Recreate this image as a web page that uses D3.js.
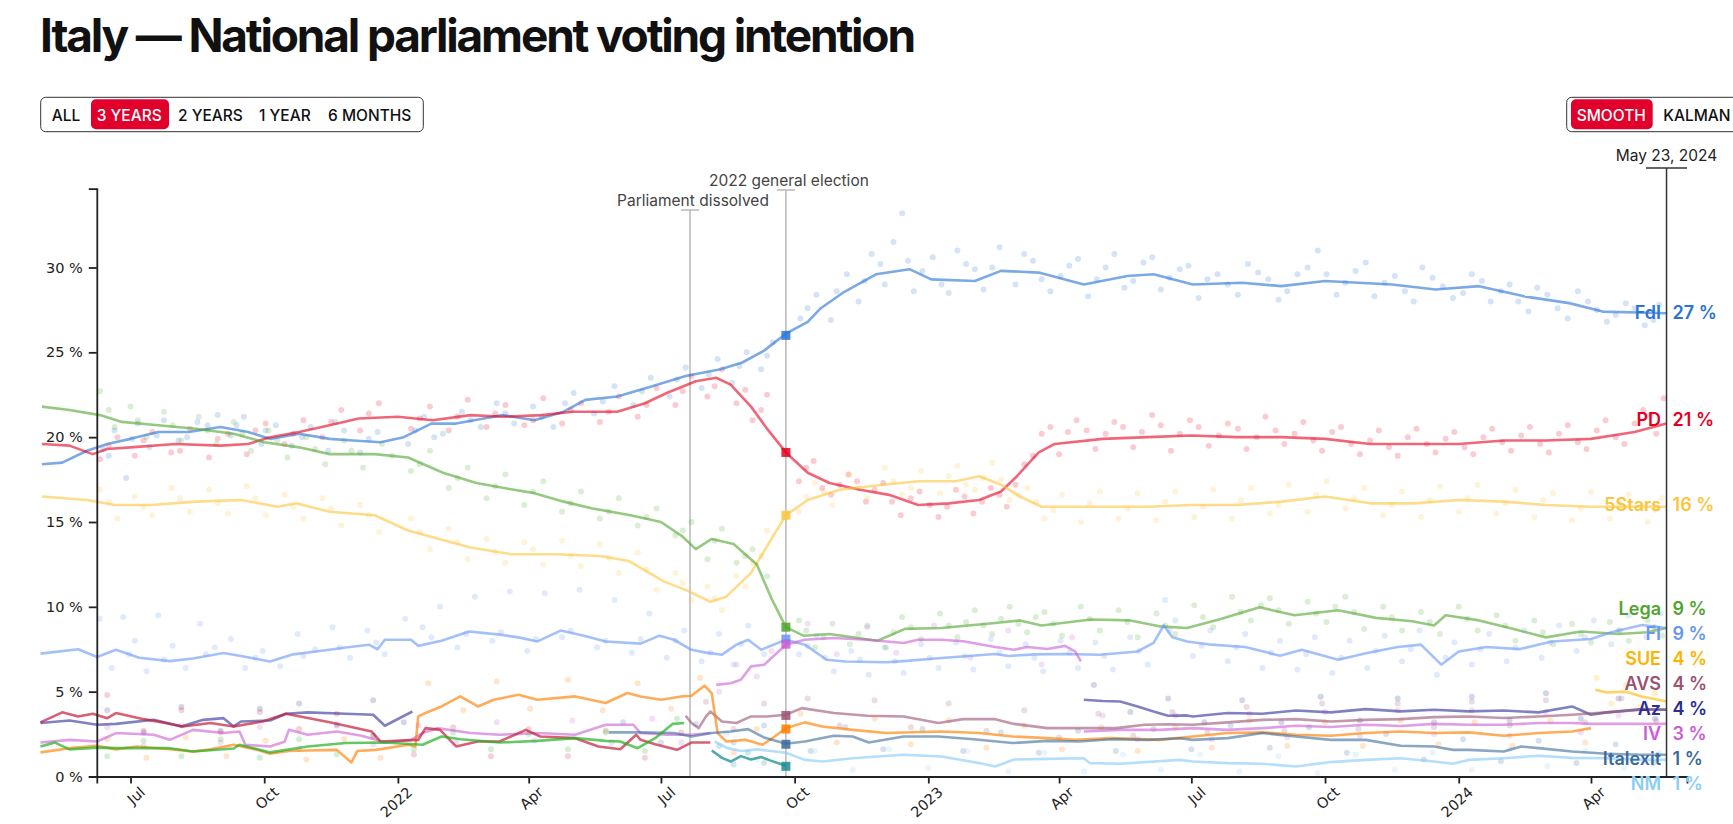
<!DOCTYPE html>
<html><head><meta charset="utf-8">
<script src="https://cdn.jsdelivr.net/npm/d3@7"></script>
<style>
body{margin:0;background:#fff;}
svg{display:block;font-family:Inter,"Noto Sans",sans-serif;}
</style></head><body>
<svg id="chart" width="1733" height="824"></svg>
<script>
// ---------------- DATA ----------------
const yTicks = [0,5,10,15,20,25,30];
const rangeButtons = ["ALL","3 YEARS","2 YEARS","1 YEAR","6 MONTHS"];
const modeButtons = ["SMOOTH","KALMAN"];
const events = [["2022-07-21","Parliament dissolved"],["2022-09-25","2022 general election"]];
const latestDate = "2024-05-23";

const fdiLine = [["2021-05-01",18.4],["2021-05-15",18.5],["2021-06-01",19.2],["2021-06-15",19.6],["2021-07-01",19.9],["2021-07-20",20.3],["2021-08-10",20.3],["2021-09-01",20.6],["2021-09-20",20.3],["2021-10-05",19.9],["2021-10-25",20.2],["2021-11-15",19.9],["2021-12-01",19.8],["2021-12-20",19.7],["2022-01-05",20.0],["2022-01-24",20.8],["2022-02-10",20.8],["2022-03-01",21.1],["2022-03-14",21.3],["2022-04-05",21.0],["2022-04-25",21.5],["2022-05-10",22.2],["2022-06-01",22.4],["2022-06-25",23.0],["2022-07-18",23.6],["2022-08-11",24.0],["2022-08-26",24.4],["2022-09-10",25.1],["2022-09-25",26.1],["2022-10-10",26.8],["2022-10-19",27.6],["2022-11-03",28.5],["2022-11-26",29.6],["2022-12-19",29.9],["2023-01-03",29.3],["2023-02-02",29.2],["2023-02-20",29.8],["2023-03-18",29.7],["2023-04-18",29.0],["2023-05-18",29.5],["2023-06-05",29.6],["2023-07-02",29.0],["2023-08-05",29.1],["2023-09-01",28.9],["2023-10-01",29.2],["2023-11-16",29.0],["2023-12-16",28.7],["2024-01-15",28.9],["2024-02-15",28.3],["2024-03-17",27.9],["2024-04-09",27.4],["2024-05-23",27.3]];
const pdLine = [["2021-05-01",19.6],["2021-05-20",19.5],["2021-06-05",19.0],["2021-06-15",19.3],["2021-07-01",19.4],["2021-08-01",19.6],["2021-09-01",19.5],["2021-09-20",19.6],["2021-10-05",20.0],["2021-10-25",20.3],["2021-11-15",20.7],["2021-12-05",21.1],["2022-01-01",21.2],["2022-01-25",21.0],["2022-02-20",21.3],["2022-03-15",21.2],["2022-04-10",21.3],["2022-05-01",21.5],["2022-06-01",21.5],["2022-06-20",22.0],["2022-07-05",22.6],["2022-07-25",23.3],["2022-08-08",23.5],["2022-08-18",23.1],["2022-09-01",21.8],["2022-09-12",20.5],["2022-09-25",19.1],["2022-10-10",17.9],["2022-10-25",17.3],["2022-11-15",16.9],["2022-12-05",16.6],["2022-12-25",16.0],["2023-01-15",16.1],["2023-02-05",16.3],["2023-02-20",16.8],["2023-03-03",17.7],["2023-03-18",19.1],["2023-03-29",19.6],["2023-05-01",19.9],["2023-06-01",20.0],["2023-07-01",20.1],["2023-08-01",20.0],["2023-09-01",20.0],["2023-10-01",19.9],["2023-11-01",19.6],["2023-12-01",19.6],["2024-01-01",19.6],["2024-02-01",19.8],["2024-03-01",19.8],["2024-04-01",19.9],["2024-05-01",20.3],["2024-05-23",20.8]];
const m5sLine = [["2021-05-01",16.5],["2021-06-01",16.3],["2021-06-20",16.0],["2021-07-15",16.0],["2021-08-15",16.2],["2021-09-15",16.3],["2021-10-10",15.9],["2021-10-23",16.1],["2021-11-15",15.6],["2021-12-16",15.4],["2022-01-08",14.5],["2022-01-25",14.1],["2022-02-20",13.5],["2022-03-20",13.1],["2022-04-20",13.1],["2022-05-20",13.0],["2022-06-09",12.7],["2022-07-03",11.5],["2022-07-18",11.0],["2022-08-04",10.3],["2022-08-15",10.6],["2022-09-01",12.0],["2022-09-15",14.0],["2022-09-25",15.4],["2022-10-10",16.3],["2022-11-01",16.9],["2022-12-01",17.2],["2022-12-25",17.4],["2023-01-20",17.4],["2023-02-05",17.7],["2023-02-20",17.2],["2023-03-05",16.5],["2023-03-20",15.9],["2023-05-01",15.9],["2023-06-01",15.9],["2023-07-01",16.0],["2023-08-01",16.0],["2023-09-01",16.2],["2023-10-01",16.5],["2023-11-01",16.1],["2023-12-01",16.1],["2024-01-01",16.3],["2024-02-01",16.2],["2024-03-01",16.0],["2024-04-01",15.9],["2024-05-23",15.9]];
const legaLine = [["2021-05-01",21.8],["2021-05-20",21.6],["2021-06-10",21.3],["2021-06-25",20.9],["2021-07-20",20.7],["2021-08-15",20.5],["2021-09-10",20.2],["2021-10-01",19.7],["2021-10-25",19.4],["2021-11-15",19.0],["2021-12-16",19.0],["2022-01-08",18.8],["2022-02-01",17.9],["2022-02-24",17.3],["2022-03-15",17.0],["2022-04-05",16.7],["2022-04-25",16.2],["2022-05-15",15.8],["2022-06-10",15.4],["2022-07-01",15.0],["2022-07-15",14.2],["2022-07-25",13.4],["2022-08-05",14.0],["2022-08-20",13.7],["2022-09-05",12.5],["2022-09-15",10.5],["2022-09-25",8.8],["2022-10-07",8.3],["2022-10-25",8.4],["2022-11-27",8.0],["2022-12-16",8.7],["2023-01-10",8.75],["2023-02-16",9.05],["2023-03-05",9.2],["2023-03-20",8.9],["2023-04-23",9.25],["2023-05-20",9.2],["2023-06-09",8.85],["2023-06-28",8.75],["2023-07-20",9.25],["2023-08-17",9.97],["2023-09-10",9.5],["2023-10-10",9.8],["2023-11-05",9.35],["2023-11-30",9.15],["2023-12-15",8.9],["2023-12-23",9.5],["2024-01-15",9.2],["2024-02-05",8.75],["2024-03-01",8.2],["2024-03-25",8.55],["2024-04-20",8.4],["2024-05-10",8.5],["2024-05-23",8.75]];
const fiLine = [["2021-04-30",7.24],["2021-05-26",7.5],["2021-06-08",7.04],["2021-06-21",7.47],["2021-07-07",7.0],["2021-07-28",6.8],["2021-08-13",6.95],["2021-09-03",7.28],["2021-09-15",7.1],["2021-10-05",6.78],["2021-10-21",7.2],["2021-11-11",7.43],["2021-11-26",7.6],["2021-12-12",7.77],["2021-12-18",7.5],["2021-12-23",8.06],["2022-01-10",8.06],["2022-01-15",7.7],["2022-01-31",8.0],["2022-02-19",8.55],["2022-03-12",8.36],["2022-03-25",8.2],["2022-04-07",7.96],["2022-04-23",8.6],["2022-05-09",8.3],["2022-05-24",7.96],["2022-06-17",7.83],["2022-06-30",8.3],["2022-07-10",8.06],["2022-07-22",7.47],["2022-08-01",7.3],["2022-08-12",7.18],["2022-08-22",7.77],["2022-08-30",8.06],["2022-09-08",7.47],["2022-09-25",8.06],["2022-10-08",7.77],["2022-10-23",6.88],["2022-11-05",6.78],["2022-12-03",6.73],["2022-12-15",6.8],["2023-01-10",6.98],["2023-02-16",7.22],["2023-02-25",7.1],["2023-03-15",7.2],["2023-04-05",7.22],["2023-04-29",7.18],["2023-05-25",7.37],["2023-06-05",7.87],["2023-06-12",8.9],["2023-06-18",8.2],["2023-06-28",7.96],["2023-07-15",7.77],["2023-08-07",7.63],["2023-08-31",7.12],["2023-09-15",7.47],["2023-10-10",6.88],["2023-10-30",7.28],["2023-11-20",7.63],["2023-12-06",7.77],["2023-12-20",6.59],["2024-01-01",7.37],["2024-01-20",7.63],["2024-02-12",7.51],["2024-03-05",7.96],["2024-04-01",8.1],["2024-04-15",8.5],["2024-05-06",8.93],["2024-05-23",8.75]];
const ivLine = [["2021-04-30",2.0],["2021-05-20",2.16],["2021-06-08",2.06],["2021-06-21",2.56],["2021-07-17",2.46],["2021-07-28",2.16],["2021-08-13",2.75],["2021-09-03",2.56],["2021-09-14",2.65],["2021-09-18",1.87],["2021-10-05",1.77],["2021-10-15",2.05],["2021-10-18",2.75],["2021-10-31",2.46],["2021-11-20",2.65],["2021-12-07",2.4],["2021-12-17",2.16],["2021-12-23",2.0],["2022-01-10",2.16],["2022-01-18",2.56],["2022-01-28",2.85],["2022-02-20",2.56],["2022-03-12",2.46],["2022-04-07",2.56],["2022-05-03",2.46],["2022-05-24",3.05],["2022-06-12",3.05],["2022-06-17",2.56],["2022-07-05",2.46],["2022-07-22",2.46],["2022-08-04",2.56],null,["2022-08-08",5.4],["2022-08-18",5.5],["2022-08-25",5.7],["2022-09-01",6.49],["2022-09-10",6.59],["2022-09-25",7.77],["2022-10-08",8.06],["2022-10-28",8.16],["2022-11-20",8.06],["2022-12-15",7.87],["2022-12-25",8.06],["2023-01-10",8.06],["2023-01-25",7.97],["2023-02-16",7.63],["2023-03-01",7.47],["2023-03-10",7.63],["2023-03-24",7.51],["2023-04-05",7.7],["2023-04-12",7.37],["2023-04-16",6.78],null,["2023-04-18",2.65],["2023-05-13",2.75],["2023-06-09",2.75],["2023-07-02",2.85],["2023-07-26",2.75],["2023-08-19",2.85],["2023-09-11",2.99],["2023-10-05",2.92],["2023-10-29",3.05],["2023-11-22",2.98],["2023-12-15",3.1],["2024-01-08",3.05],["2024-02-01",3.05],["2024-02-25",3.15],["2024-03-19",3.15],["2024-04-01",3.1],["2024-05-23",3.1]];
const azLine = [["2021-04-30",3.15],["2021-05-20",3.3],["2021-06-08",3.05],["2021-06-21",3.1],["2021-07-17",3.34],["2021-08-05",2.95],["2021-08-20",3.34],["2021-09-03",3.44],["2021-09-10",2.95],["2021-09-15",3.24],["2021-10-05",3.3],["2021-10-16",3.7],["2021-10-31",3.78],["2021-11-26",3.7],["2021-12-15",3.64],["2021-12-23",2.99],["2022-01-11",3.83],null,["2023-04-18",4.52],["2023-05-01",4.45],["2023-05-13",4.42],["2023-05-25",4.13],["2023-06-05",3.83],["2023-06-15",3.58],["2023-06-28",3.6],["2023-07-02",3.54],["2023-07-26",3.74],["2023-08-19",3.7],["2023-09-11",3.89],["2023-10-05",3.78],["2023-10-29",3.97],["2023-11-22",3.84],["2023-12-15",3.93],["2024-01-08",3.84],["2024-02-01",3.89],["2024-02-25",3.78],["2024-03-19",4.13],["2024-04-01",3.64],["2024-04-12",3.78],["2024-05-06",3.97],["2024-05-23",3.93]];
const avsLine = [["2022-07-18",3.58],["2022-07-22",3.15],["2022-07-27",2.85],["2022-08-01",3.54],["2022-08-04",3.83],["2022-08-12",3.24],["2022-08-22",3.15],["2022-09-01",3.54],["2022-09-12",3.54],["2022-09-25",3.64],["2022-10-06",4.03],["2022-10-28",3.74],["2022-11-20",3.58],["2022-12-15",3.54],["2023-01-08",3.15],["2023-01-25",3.38],["2023-02-16",3.38],["2023-03-01",3.1],["2023-03-24",2.85],["2023-04-15",2.85],["2023-05-10",2.85],["2023-05-30",3.05],["2023-06-15",3.08],["2023-07-02",3.05],["2023-07-26",3.19],["2023-08-19",3.34],["2023-09-11",3.38],["2023-10-05",3.24],["2023-10-29",3.34],["2023-11-22",3.38],["2023-12-15",3.5],["2024-01-08",3.54],["2024-02-01",3.45],["2024-02-25",3.54],["2024-03-19",3.64],["2024-04-12",3.78],["2024-05-06",3.93],["2024-05-23",3.93]];
const peLine = [["2021-04-30",1.42],["2021-05-20",1.67],["2021-06-08",1.81],["2021-06-21",1.6],["2021-07-05",1.77],["2021-07-28",1.61],["2021-08-13",1.47],["2021-08-25",1.6],["2021-09-10",1.87],["2021-09-25",1.6],["2021-10-05",1.34],["2021-10-18",1.5],["2021-10-31",1.53],["2021-11-20",1.57],["2021-11-30",0.83],["2021-12-04",1.5],["2021-12-17",1.57],["2022-01-08",1.87],["2022-01-13",1.77],["2022-01-15",3.54],["2022-01-20",3.74],["2022-01-31",4.13],["2022-02-13",4.72],["2022-02-25",4.13],["2022-03-08",4.52],["2022-03-25",4.82],["2022-04-07",4.52],["2022-05-03",4.72],["2022-05-24",4.33],["2022-06-08",4.92],["2022-06-17",4.72],["2022-07-01",4.52],["2022-07-15",4.72],["2022-07-22",4.76],["2022-07-31",5.35],["2022-08-05",4.9],["2022-08-09",2.56],["2022-08-15",2.06],["2022-08-28",2.16],["2022-09-09",1.87],["2022-09-18",2.4],["2022-09-25",2.85],["2022-10-08",3.19],["2022-10-20",2.95],["2022-11-10",2.75],["2022-12-03",2.56],["2023-01-10",2.65],["2023-02-05",2.56],["2023-02-28",2.36],["2023-03-24",2.26],["2023-04-12",2.16],["2023-05-07",2.26],["2023-06-09",2.16],["2023-07-02",2.36],["2023-07-26",2.56],["2023-08-19",2.6],["2023-09-11",2.46],["2023-10-05",2.4],["2023-10-29",2.56],["2023-11-22",2.65],["2023-12-15",2.56],["2024-01-08",2.6],["2024-02-01",2.4],["2024-02-25",2.56],["2024-03-19",2.65],["2024-04-01",2.85]];
const sueLine = [["2024-04-04",5.11],["2024-04-12",4.95],["2024-04-25",5.0],["2024-05-06",4.72],["2024-05-23",4.42]];
const italexitLine = [["2022-05-26",2.6],["2022-06-17",2.6],["2022-07-10",2.56],["2022-07-22",2.36],["2022-08-05",2.56],["2022-08-18",2.65],["2022-08-30",2.79],["2022-09-10",2.3],["2022-09-25",1.93],["2022-10-08",2.06],["2022-10-28",2.4],["2022-11-10",2.36],["2022-11-21",2.0],["2022-12-15",2.36],["2023-01-08",2.36],["2023-02-01",2.2],["2023-02-28",1.97],["2023-03-24",2.1],["2023-04-15",2.06],["2023-05-07",2.2],["2023-06-01",2.16],["2023-06-23",2.25],["2023-07-02",2.16],["2023-07-26",2.26],["2023-08-19",2.56],["2023-09-11",2.36],["2023-10-05",2.16],["2023-10-29",2.16],["2023-11-22",1.81],["2023-12-15",1.77],["2023-12-28",1.57],["2024-01-08",1.57],["2024-02-01",1.47],["2024-02-13",1.77],["2024-02-25",1.67],["2024-03-19",1.47],["2024-04-12",1.34],["2024-05-06",1.28],["2024-05-23",1.28]];
const nmLine = [["2022-08-07",2.06],["2022-08-15",1.7],["2022-08-25",1.5],["2022-09-05",1.6],["2022-09-25",1.4],["2022-10-08",0.98],["2022-10-20",0.88],["2022-11-10",1.08],["2022-12-15",1.28],["2023-01-10",1.18],["2023-02-05",0.79],["2023-02-16",0.59],["2023-03-01",1.0],["2023-03-24",1.04],["2023-04-18",1.08],["2023-04-22",0.8],["2023-05-13",0.75],["2023-06-23",0.98],["2023-07-02",0.88],["2023-07-26",0.79],["2023-08-19",0.75],["2023-09-11",0.59],["2023-10-05",0.85],["2023-10-29",0.98],["2023-11-22",1.08],["2023-12-15",0.88],["2023-12-28",0.75],["2024-01-08",0.98],["2024-02-01",1.08],["2024-02-25",1.22],["2024-03-19",1.1],["2024-04-12",1.08],["2024-05-06",0.98],["2024-05-23",0.98]];
const icLine = [["2022-08-05",1.53],["2022-08-12",1.1],["2022-08-18",0.88],["2022-08-25",1.2],["2022-09-01",1.0],["2022-09-08",1.15],["2022-09-14",0.95],["2022-09-25",0.63]];
const siLine = [["2021-04-30",3.19],["2021-05-15",3.78],["2021-05-26",3.54],["2021-06-05",3.7],["2021-06-15",3.44],["2021-06-21",3.74],["2021-07-10",3.38],["2021-07-25",3.15],["2021-08-06",2.95],["2021-08-25",3.15],["2021-09-10",2.95],["2021-09-30",3.24],["2021-10-16",3.7],["2021-11-15",3.2],["2021-12-14",2.65],["2021-12-20",2.06],["2022-01-15",2.16],["2022-01-20",2.85],["2022-01-30",2.75],["2022-02-10",1.77],["2022-02-25",2.06],["2022-03-12",2.06],["2022-03-30",2.75],["2022-04-09",2.36],["2022-05-03",2.26],["2022-05-19",1.77],["2022-06-03",1.61],["2022-06-14",2.46],["2022-06-17",2.16],["2022-06-27",1.9],["2022-07-12",1.57],["2022-07-22",2.0],["2022-08-04",2.0]];
const evLine = [["2021-04-30",1.77],["2021-05-10",2.0],["2021-05-20",1.6],["2021-06-08",1.7],["2021-06-21",1.67],["2021-07-28",1.67],["2021-08-13",1.47],["2021-09-10",1.65],["2021-09-14",1.87],["2021-10-05",1.42],["2021-10-31",1.77],["2021-11-26",1.97],["2021-12-23",2.0],["2022-01-18",1.87],["2022-01-31",2.36],["2022-02-13",2.2],["2022-03-12",2.0],["2022-04-07",2.1],["2022-05-03",2.26],["2022-05-24",2.1],["2022-06-03",2.06],["2022-06-15",1.67],["2022-06-27",2.26],["2022-07-09",3.1],["2022-07-17",3.15]];

const fdiPolls = [["2021-06-12",19.3],["2021-06-20",20.4],["2021-06-28",17.6],["2021-07-06",20.8],["2021-07-14",19.4],["2021-07-24",21.0],["2021-08-03",19.8],["2021-08-16",20.9],["2021-08-30",21.3],["2021-09-08",20.1],["2021-09-17",21.2],["2021-09-29",19.6],["2021-10-09",20.7],["2021-10-20",19.5],["2021-11-02",20.6],["2021-11-14",19.2],["2021-11-25",20.4],["2021-12-06",19.1],["2021-12-18",20.3],["2022-01-08",19.6],["2022-01-19",21.2],["2022-02-01",20.2],["2022-02-14",21.5],["2022-02-27",20.6],["2022-03-10",22.0],["2022-03-22",20.8],["2022-04-04",21.8],["2022-04-18",20.6],["2022-05-02",22.6],["2022-05-16",21.4],["2022-05-30",23.0],["2022-06-12",21.9],["2022-06-24",23.5],["2022-07-07",22.4],["2022-07-18",24.1],["2022-07-29",22.9],["2022-08-09",24.6],["2022-08-19",23.2],["2022-08-29",25.0],["2022-09-08",24.0],["2022-09-16",25.6],["2022-10-05",27.0],["2022-10-16",28.4],["2022-10-26",26.9],["2022-11-06",29.6],["2022-11-14",28.0],["2022-11-23",30.8],["2022-12-02",29.0],["2022-12-08",31.5],["2022-12-14",33.2],["2022-12-22",28.6],["2023-01-04",30.6],["2023-01-15",28.5],["2023-01-27",30.2],["2023-02-08",28.7],["2023-02-19",31.2],["2023-03-02",29.0],["2023-03-14",30.4],["2023-03-26",28.6],["2023-04-08",30.1],["2023-04-21",28.3],["2023-05-03",30.0],["2023-05-16",28.8],["2023-05-29",30.3],["2023-06-10",28.7],["2023-06-23",29.9],["2023-07-06",28.2],["2023-07-19",29.6],["2023-08-02",28.4],["2023-08-16",29.7],["2023-08-30",28.1],["2023-09-12",29.6],["2023-09-26",31.0],["2023-10-09",28.4],["2023-10-22",29.8],["2023-11-04",28.3],["2023-11-18",29.5],["2023-12-01",28.0],["2023-12-14",29.4],["2023-12-28",28.2],["2024-01-10",29.6],["2024-01-23",28.0],["2024-02-05",29.0],["2024-02-18",27.4],["2024-03-02",28.4],["2024-03-16",27.0],["2024-03-30",28.0],["2024-04-12",26.8],["2024-04-25",27.9],["2024-05-08",26.6],["2024-05-18",27.8],
["2021-06-16",18.9],["2021-07-02",19.9],["2021-07-19",20.1],["2021-08-09",20.0],["2021-08-23",20.7],["2021-09-12",20.7],["2021-10-02",20.4],["2021-10-27",20.0],["2021-11-19",20.9],["2021-12-12",19.9],["2022-01-13",20.4],["2022-01-26",20.0],["2022-02-20",21.0],["2022-03-16",21.4],["2022-04-10",21.2],["2022-04-26",22.0],["2022-05-22",22.1],["2022-06-18",22.7],["2022-07-12",23.4],["2022-08-03",23.7],["2022-08-24",24.2],["2022-09-12",24.8],["2022-10-10",27.6],["2022-10-30",28.6],["2022-11-18",29.2],["2022-11-29",30.2],["2022-12-18",30.4],["2022-12-28",29.8],["2023-01-10",29.0],["2023-01-21",31.0],["2023-02-02",29.9],["2023-02-14",30.0],["2023-03-08",30.8],["2023-03-20",29.3],["2023-04-02",29.5],["2023-04-14",30.5],["2023-04-27",29.3],["2023-05-09",30.8],["2023-05-22",29.2],["2023-06-04",30.6],["2023-06-16",29.4],["2023-06-29",30.1],["2023-07-12",29.3],["2023-07-26",29.0],["2023-08-09",30.2],["2023-08-23",29.3],["2023-09-05",28.6],["2023-09-19",30.0],["2023-10-02",29.6],["2023-10-15",29.1],["2023-10-29",30.3],["2023-11-11",29.1],["2023-11-25",28.6],["2023-12-07",30.0],["2023-12-21",28.9],["2024-01-04",28.5],["2024-01-17",29.2],["2024-01-30",28.6],["2024-02-11",28.0],["2024-02-24",28.8],["2024-03-09",27.6],["2024-03-23",28.6],["2024-04-05",27.5],["2024-04-18",27.2],["2024-05-01",27.6],["2024-05-14",26.9]];
const pdPolls = [["2021-06-10",18.7],["2021-06-22",20.0],["2021-07-04",18.9],["2021-07-16",20.3],["2021-07-29",19.1],["2021-08-11",20.5],["2021-08-24",18.8],["2021-09-06",20.2],["2021-09-19",19.0],["2021-10-02",20.8],["2021-10-15",19.6],["2021-10-28",21.0],["2021-11-10",20.0],["2021-11-23",21.6],["2021-12-06",20.4],["2021-12-19",22.0],["2022-01-10",20.5],["2022-01-23",21.8],["2022-02-05",20.4],["2022-02-18",22.2],["2022-03-03",20.6],["2022-03-16",21.9],["2022-03-29",20.7],["2022-04-11",22.3],["2022-04-24",20.8],["2022-05-07",22.0],["2022-05-20",20.9],["2022-06-02",22.4],["2022-06-15",21.2],["2022-06-28",22.9],["2022-07-11",21.9],["2022-07-22",23.6],["2022-08-02",22.4],["2022-08-12",24.0],["2022-08-22",22.0],["2022-09-02",21.0],["2022-09-12",22.5],["2022-10-04",17.4],["2022-10-14",18.6],["2022-10-26",16.6],["2022-11-07",17.8],["2022-11-19",16.2],["2022-12-01",17.3],["2022-12-13",15.4],["2022-12-26",16.8],["2023-01-08",15.3],["2023-01-20",16.9],["2023-02-01",15.5],["2023-02-13",17.0],["2023-02-24",15.9],["2023-03-08",18.4],["2023-03-20",20.2],["2023-04-01",19.0],["2023-04-13",21.0],["2023-04-26",19.3],["2023-05-09",20.9],["2023-05-22",19.4],["2023-06-04",21.3],["2023-06-17",19.2],["2023-06-30",21.0],["2023-07-13",19.5],["2023-07-26",20.8],["2023-08-08",19.3],["2023-08-21",21.2],["2023-09-03",19.6],["2023-09-16",20.9],["2023-09-29",19.2],["2023-10-12",20.6],["2023-10-25",19.0],["2023-11-07",20.4],["2023-11-20",18.9],["2023-12-03",20.5],["2023-12-16",19.1],["2023-12-29",20.3],["2024-01-11",19.0],["2024-01-24",20.5],["2024-02-06",19.2],["2024-02-19",20.6],["2024-03-03",19.1],["2024-03-16",20.7],["2024-03-29",19.3],["2024-04-11",21.0],["2024-04-24",19.6],["2024-05-07",21.6],["2024-05-16",20.2],["2024-05-21",22.3],
["2021-06-16",19.5],["2021-07-10",19.8],["2021-08-04",19.2],["2021-08-30",19.9],["2021-09-25",20.4],["2021-10-21",20.2],["2021-11-16",20.9],["2021-12-12",21.4],["2022-01-16",21.1],["2022-02-11",21.2],["2022-03-09",21.4],["2022-04-04",21.0],["2022-04-30",21.6],["2022-05-26",21.5],["2022-06-21",21.9],["2022-07-16",22.7],["2022-08-07",23.0],["2022-08-28",22.8],["2022-09-08",21.6],["2022-10-09",18.2],["2022-10-20",17.0],["2022-11-01",17.2],["2022-11-13",17.4],["2022-11-25",16.9],["2022-12-07",16.2],["2022-12-20",16.4],["2023-01-02",16.0],["2023-01-14",15.9],["2023-01-26",16.5],["2023-02-07",16.2],["2023-02-19",16.6],["2023-03-02",17.2],["2023-03-14",18.9],["2023-03-26",20.6],["2023-04-07",20.3],["2023-04-20",20.4],["2023-05-03",20.2],["2023-05-15",20.6],["2023-05-28",20.3],["2023-06-10",20.7],["2023-06-23",20.2],["2023-07-06",20.6],["2023-07-20",20.1],["2023-08-02",20.5],["2023-08-15",20.0],["2023-08-28",20.4],["2023-09-10",20.2],["2023-09-23",19.8],["2023-10-06",20.3],["2023-10-19",19.6],["2023-11-01",19.8],["2023-11-14",19.4],["2023-11-27",20.0],["2023-12-10",19.6],["2023-12-23",19.9],["2024-01-05",19.4],["2024-01-18",20.0],["2024-01-31",19.7],["2024-02-13",20.1],["2024-02-26",19.6],["2024-03-10",20.2],["2024-03-23",19.7],["2024-04-05",20.4],["2024-04-18",20.0],["2024-05-01",20.8],["2024-05-12",21.3]];
const m5sPolls = [["2021-06-10",16.9],["2021-06-22",15.2],["2021-07-04",16.5],["2021-07-16",15.4],["2021-07-29",17.0],["2021-08-11",15.6],["2021-08-24",16.9],["2021-09-06",15.5],["2021-09-19",17.1],["2021-10-02",15.4],["2021-10-15",16.6],["2021-10-28",15.2],["2021-11-10",16.4],["2021-11-23",14.8],["2021-12-06",16.0],["2021-12-19",14.4],["2022-01-10",15.2],["2022-01-23",13.4],["2022-02-05",14.6],["2022-02-18",12.8],["2022-03-03",14.0],["2022-03-16",12.6],["2022-03-29",13.8],["2022-04-11",12.5],["2022-04-24",13.9],["2022-05-07",12.4],["2022-05-20",13.7],["2022-06-02",12.0],["2022-06-15",13.2],["2022-06-28",11.0],["2022-07-11",12.0],["2022-07-22",10.4],["2022-08-02",11.2],["2022-08-12",9.8],["2022-08-22",11.8],["2022-09-02",12.6],["2022-09-12",14.5],["2022-10-04",15.6],["2022-10-15",17.3],["2022-10-27",16.0],["2022-11-08",17.8],["2022-11-20",16.4],["2022-12-02",18.2],["2022-12-14",16.6],["2022-12-27",18.0],["2023-01-09",16.7],["2023-01-21",18.3],["2023-02-02",16.9],["2023-02-14",18.5],["2023-02-26",16.3],["2023-03-10",17.0],["2023-03-22",15.2],["2023-04-03",16.6],["2023-04-16",15.0],["2023-04-29",16.8],["2023-05-12",15.2],["2023-05-25",16.7],["2023-06-07",15.1],["2023-06-20",16.8],["2023-07-03",15.3],["2023-07-16",16.9],["2023-07-29",15.2],["2023-08-11",17.0],["2023-08-24",15.5],["2023-09-06",17.2],["2023-09-19",15.6],["2023-10-02",17.4],["2023-10-15",15.8],["2023-10-28",17.0],["2023-11-10",15.4],["2023-11-23",16.8],["2023-12-06",15.3],["2023-12-19",17.1],["2024-01-01",15.6],["2024-01-14",17.2],["2024-01-27",15.5],["2024-02-09",16.9],["2024-02-22",15.3],["2024-03-06",16.7],["2024-03-19",15.1],["2024-04-01",16.8],["2024-04-14",15.2],["2024-04-27",16.6],["2024-05-10",15.0],["2024-05-20",16.4],
["2021-06-16",16.2],["2021-07-10",15.9],["2021-08-04",16.4],["2021-08-30",16.1],["2021-09-25",16.4],["2021-10-21",15.9],["2021-11-16",15.8],["2021-12-12",15.4],["2022-01-16",14.4],["2022-02-11",13.8],["2022-03-09",13.2],["2022-04-04",13.4],["2022-04-30",13.0],["2022-05-26",12.9],["2022-06-21",12.2],["2022-07-16",11.4],["2022-08-07",10.5],["2022-08-28",11.2],["2022-09-08",13.0],["2022-10-09",16.5],["2022-10-21",16.8],["2022-11-14",17.0],["2022-12-08",17.4],["2022-12-20",17.0],["2023-01-15",17.7],["2023-01-27",17.2],["2023-02-08",17.6],["2023-02-20",17.5],["2023-03-04",16.6],["2023-03-16",16.2],["2023-03-28",15.7],["2023-04-22",16.1],["2023-05-18",15.8],["2023-06-13",16.2],["2023-07-09",15.9],["2023-08-04",16.3],["2023-08-30",16.0],["2023-09-25",16.6],["2023-10-21",16.4],["2023-11-16",16.0],["2023-12-12",16.3],["2024-01-07",16.4],["2024-02-02",16.1],["2024-02-28",16.3],["2024-03-25",15.8],["2024-04-20",16.1],["2024-05-15",15.7]];
const legaPolls = [["2021-06-10",22.7],["2021-06-20",20.6],["2021-07-01",21.8],["2021-07-12",20.0],["2021-07-24",21.5],["2021-08-05",19.8],["2021-08-17",21.2],["2021-08-29",19.6],["2021-09-10",20.9],["2021-09-22",19.2],["2021-10-04",20.4],["2021-10-17",18.8],["2021-10-30",20.0],["2021-11-12",18.4],["2021-11-25",19.8],["2021-12-08",18.2],["2021-12-21",19.6],["2022-01-10",18.0],["2022-01-23",19.2],["2022-02-05",17.0],["2022-02-18",18.2],["2022-03-03",16.4],["2022-03-16",17.8],["2022-03-29",16.0],["2022-04-11",17.4],["2022-04-24",15.6],["2022-05-07",16.8],["2022-05-20",15.2],["2022-06-02",16.4],["2022-06-15",14.8],["2022-06-28",15.8],["2022-07-11",14.2],["2022-07-22",15.0],["2022-08-02",12.8],["2022-08-12",14.6],["2022-08-22",12.6],["2022-09-02",13.4],["2022-09-12",11.8],["2022-10-04",9.2],["2022-10-15",7.6],["2022-10-27",9.0],["2022-11-08",7.8],["2022-11-20",8.9],["2022-12-02",7.6],["2022-12-14",9.4],["2022-12-27",8.1],["2023-01-09",9.6],["2023-01-21",8.2],["2023-02-02",9.8],["2023-02-14",8.4],["2023-02-26",10.0],["2023-03-10",8.5],["2023-03-22",9.7],["2023-04-03",8.3],["2023-04-16",10.0],["2023-04-29",8.6],["2023-05-12",9.8],["2023-05-25",8.2],["2023-06-07",9.6],["2023-06-20",8.4],["2023-07-03",10.1],["2023-07-16",8.8],["2023-07-29",10.6],["2023-08-11",9.2],["2023-08-24",10.5],["2023-09-06",9.0],["2023-09-19",10.3],["2023-10-02",9.1],["2023-10-15",10.6],["2023-10-28",8.7],["2023-11-10",10.0],["2023-11-23",8.6],["2023-12-06",9.7],["2023-12-19",8.4],["2024-01-01",10.0],["2024-01-14",8.6],["2024-01-27",9.5],["2024-02-09",8.0],["2024-02-22",9.2],["2024-03-06",7.8],["2024-03-19",9.0],["2024-04-01",7.9],["2024-04-14",9.1],["2024-04-27",8.0],["2024-05-10",9.2],["2024-05-20",8.3],
["2021-06-16",21.6],["2021-07-06",21.0],["2021-07-30",20.7],["2021-08-23",20.4],["2021-09-16",20.2],["2021-10-10",19.8],["2021-11-05",19.3],["2021-11-30",19.2],["2021-12-28",18.9],["2022-01-16",18.4],["2022-02-11",17.6],["2022-03-09",17.1],["2022-04-04",16.8],["2022-04-30",16.1],["2022-05-26",15.6],["2022-06-21",15.3],["2022-07-16",14.5],["2022-08-07",13.9],["2022-08-28",13.0],["2022-10-09",8.6],["2022-10-21",8.2],["2022-11-14",8.4],["2022-12-08",8.5],["2022-12-20",8.8],["2023-01-15",8.9],["2023-01-27",9.1],["2023-02-08",8.9],["2023-02-20",9.3],["2023-03-04",9.0],["2023-03-16",9.4],["2023-03-28",9.0],["2023-04-22",9.3],["2023-05-18",9.1],["2023-06-13",8.9],["2023-07-09",9.4],["2023-08-04",9.7],["2023-08-18",10.1],["2023-08-30",9.8],["2023-09-25",9.6],["2023-10-08",10.0],["2023-10-21",9.7],["2023-11-16",9.4],["2023-12-12",9.1],["2024-01-07",9.3],["2024-02-02",8.9],["2024-02-28",8.5],["2024-03-25",8.4],["2024-04-20",8.6],["2024-05-15",8.8]];
const fiPolls = [["2021-06-10",9.3],["2021-06-18",6.4],["2021-06-26",9.4],["2021-07-04",8.0],["2021-07-12",6.2],["2021-07-20",9.5],["2021-07-30",7.7],["2021-08-08",6.4],["2021-08-18",9.0],["2021-08-28",7.6],["2021-09-08",8.1],["2021-09-18",6.4],["2021-09-30",7.4],["2021-10-12",6.5],["2021-10-24",8.4],["2021-11-05",7.5],["2021-11-17",8.8],["2021-11-29",7.0],["2021-12-11",8.6],["2021-12-23",7.2],["2022-01-06",9.3],["2022-01-18",8.8],["2022-01-30",10.0],["2022-02-11",7.6],["2022-02-23",10.6],["2022-03-07",8.0],["2022-03-19",10.9],["2022-03-31",7.4],["2022-04-12",10.8],["2022-04-24",8.2],["2022-05-06",11.0],["2022-05-18",7.6],["2022-05-30",10.4],["2022-06-11",7.3],["2022-06-23",9.6],["2022-07-05",7.0],["2022-07-17",8.6],["2022-07-29",6.8],["2022-08-10",8.4],["2022-08-20",6.6],["2022-08-30",8.9],["2022-09-10",7.2],["2022-10-04",7.2],["2022-10-16",8.3],["2022-10-28",6.2],["2022-11-09",7.4],["2022-11-21",6.0],["2022-12-03",7.6],["2022-12-15",6.1],["2022-12-27",7.8],["2023-01-08",6.4],["2023-01-20",7.9],["2023-02-01",6.3],["2023-02-13",8.1],["2023-02-25",6.5],["2023-03-09",7.8],["2023-03-21",6.2],["2023-04-02",8.0],["2023-04-14",6.4],["2023-04-26",7.9],["2023-05-08",6.3],["2023-05-20",8.2],["2023-06-01",6.6],["2023-06-13",10.4],["2023-06-20",9.2],["2023-07-02",7.1],["2023-07-14",8.6],["2023-07-26",6.8],["2023-08-07",8.4],["2023-08-19",6.4],["2023-08-31",8.0],["2023-09-12",6.3],["2023-09-24",8.2],["2023-10-06",6.1],["2023-10-18",8.0],["2023-10-30",6.4],["2023-11-11",8.3],["2023-11-23",6.8],["2023-12-05",8.6],["2023-12-17",6.0],["2023-12-29",7.9],["2024-01-10",6.6],["2024-01-22",8.4],["2024-02-03",6.8],["2024-02-15",8.6],["2024-02-27",7.0],["2024-03-10",8.9],["2024-03-22",7.4],["2024-04-03",9.2],["2024-04-15",7.8],["2024-04-27",9.5],["2024-05-09",8.2],["2024-05-19",9.6],
["2021-06-30",7.2],["2021-07-24",6.9],["2021-08-22",7.2],["2021-09-25",7.0],["2021-10-28",7.1],["2021-11-22",7.6],["2021-12-17",7.9],["2022-01-24",8.2],["2022-02-17",8.4],["2022-03-13",8.5],["2022-04-06",8.1],["2022-04-30",8.6],["2022-05-24",8.0],["2022-06-17",8.1],["2022-07-11",8.0],["2022-08-04",7.3],["2022-08-25",7.8],["2022-10-10",7.7],["2022-10-22",7.0],["2022-11-15",6.9],["2022-12-09",6.8],["2023-01-02",7.0],["2023-01-26",7.1],["2023-02-19",7.3],["2023-03-15",7.0],["2023-04-08",7.3],["2023-05-02",7.1],["2023-05-26",7.4],["2023-06-16",8.6],["2023-07-08",7.7],["2023-08-01",7.6],["2023-08-25",7.3],["2023-09-18",7.2],["2023-10-12",7.0],["2023-11-05",7.4],["2023-11-29",7.5],["2023-12-23",7.0],["2024-01-16",7.5],["2024-02-09",7.6],["2024-03-04",7.9],["2024-03-28",8.2],["2024-04-21",8.6],["2024-05-14",8.8]];
const ivPolls = [["2021-06-15",2.9],["2021-07-10",1.8],["2021-08-05",3.0],["2021-09-01",2.0],["2021-09-28",2.9],["2021-10-25",1.6],["2021-11-20",3.1],["2021-12-15",1.9],["2022-01-15",3.0],["2022-02-10",2.0],["2022-03-10",3.2],["2022-04-05",2.1],["2022-05-01",3.3],["2022-05-28",2.0],["2022-06-25",3.4],["2022-07-15",2.0],["2022-08-10",5.0],["2022-08-22",6.6],["2022-09-05",5.9],["2022-09-15",7.4],["2022-10-10",9.0],["2022-10-30",7.2],["2022-11-20",8.8],["2022-12-10",7.3],["2023-01-05",8.9],["2023-01-30",7.0],["2023-02-25",8.6],["2023-03-20",6.6],["2023-04-10",8.2],["2023-05-01",3.6],["2023-05-25",2.2],["2023-06-20",3.6],["2023-07-15",2.2],["2023-08-10",3.7],["2023-09-05",2.3],["2023-10-01",3.8],["2023-10-25",2.4],["2023-11-20",3.9],["2023-12-15",2.5],["2024-01-10",3.9],["2024-02-05",2.4],["2024-03-01",3.8],["2024-03-25",2.6],["2024-04-20",3.6],["2024-05-15",2.5]];
const azPolls = [["2021-06-15",3.9],["2021-07-10",2.6],["2021-08-05",4.1],["2021-09-01",2.7],["2021-09-28",4.0],["2021-10-25",4.3],["2021-11-20",3.0],["2021-12-15",4.5],["2022-01-05",3.2],["2023-04-25",5.4],["2023-05-20",3.8],["2023-06-15",4.6],["2023-07-10",3.2],["2023-08-05",4.5],["2023-09-01",3.2],["2023-09-28",4.7],["2023-10-25",3.3],["2023-11-20",4.6],["2023-12-15",3.2],["2024-01-10",4.7],["2024-02-05",3.3],["2024-03-01",4.9],["2024-03-25",3.4],["2024-04-20",4.6],["2024-05-15",3.4]];
const avsPolls = [["2022-08-01",4.4],["2022-08-20",2.8],["2022-09-10",4.3],["2022-10-10",4.6],["2022-11-01",3.0],["2022-11-25",4.5],["2022-12-20",2.9],["2023-01-15",4.3],["2023-02-10",2.7],["2023-03-08",3.9],["2023-04-01",2.3],["2023-04-28",3.7],["2023-05-22",2.4],["2023-06-18",3.8],["2023-07-12",2.6],["2023-08-08",4.1],["2023-09-03",2.7],["2023-09-29",4.3],["2023-10-24",2.8],["2023-11-20",4.3],["2023-12-15",2.9],["2024-01-10",4.4],["2024-02-05",3.0],["2024-03-01",4.5],["2024-03-28",3.2],["2024-04-22",4.6],["2024-05-16",3.3]];
const pePolls = [["2021-06-15",2.2],["2021-07-12",1.1],["2021-08-08",2.3],["2021-09-05",1.2],["2021-10-02",2.1],["2021-10-30",1.0],["2021-11-25",2.2],["2021-12-20",1.1],["2022-01-22",5.5],["2022-02-15",3.9],["2022-03-10",5.6],["2022-04-02",4.0],["2022-04-28",5.7],["2022-05-22",3.9],["2022-06-15",5.5],["2022-07-08",4.0],["2022-07-28",5.8],["2022-08-20",1.4],["2022-09-05",2.8],["2022-10-05",3.7],["2022-10-30",2.0],["2022-11-25",3.4],["2022-12-20",1.9],["2023-01-15",3.3],["2023-02-10",1.7],["2023-03-08",3.0],["2023-04-03",1.6],["2023-04-30",2.9],["2023-05-25",1.5],["2023-06-20",2.9],["2023-07-15",1.7],["2023-08-10",3.3],["2023-09-05",1.8],["2023-10-01",3.2],["2023-10-27",1.8],["2023-11-22",3.3],["2023-12-18",1.9],["2024-01-12",3.2],["2024-02-07",1.8],["2024-03-04",3.3],["2024-03-28",2.0]];
const suePolls = [["2024-04-05",5.8],["2024-04-15",4.3],["2024-04-25",5.4],["2024-05-05",4.1],["2024-05-15",4.9]];
const italexitPolls = [["2022-06-05",3.2],["2022-07-01",2.0],["2022-07-25",3.1],["2022-08-20",2.0],["2022-09-10",3.0],["2022-10-12",1.5],["2022-11-05",2.9],["2022-12-01",1.6],["2022-12-28",2.8],["2023-01-25",1.5],["2023-02-20",2.6],["2023-03-18",1.4],["2023-04-14",2.7],["2023-05-10",1.5],["2023-06-05",2.8],["2023-07-01",1.6],["2023-07-28",3.0],["2023-08-24",1.7],["2023-09-20",2.9],["2023-10-16",1.4],["2023-11-12",2.5],["2023-12-08",1.0],["2024-01-04",2.2],["2024-01-30",0.9],["2024-02-25",2.1],["2024-03-22",0.8],["2024-04-18",1.9],["2024-05-14",0.8]];
const nmPolls = [["2022-08-15",2.5],["2022-09-05",1.0],["2022-10-15",1.5],["2022-11-10",0.4],["2022-12-05",1.6],["2023-01-01",0.5],["2023-01-28",1.5],["2023-02-25",0.3],["2023-03-22",1.4],["2023-04-18",0.3],["2023-05-15",1.3],["2023-06-10",0.4],["2023-07-07",1.3],["2023-08-03",0.3],["2023-08-30",1.2],["2023-09-26",0.2],["2023-10-22",1.3],["2023-11-18",0.4],["2023-12-14",1.4],["2024-01-10",0.4],["2024-02-05",1.6],["2024-03-02",0.6],["2024-03-28",1.5],["2024-04-24",0.5],["2024-05-18",1.4]];
const icPolls = [["2022-08-10",1.8],["2022-08-20",0.7],["2022-08-30",1.4],["2022-09-10",0.8]];
const siPolls = [["2021-06-15",4.8],["2021-07-10",2.7],["2021-08-05",3.9],["2021-09-01",2.6],["2021-09-28",3.8],["2021-10-25",2.8],["2021-11-20",3.7],["2021-12-15",2.4],["2022-01-12",1.3],["2022-02-08",2.9],["2022-03-06",1.2],["2022-04-01",2.8],["2022-04-28",1.2],["2022-05-24",2.7],["2022-06-20",1.1],["2022-07-15",2.6]];
const evPolls = [["2021-06-15",1.2],["2021-07-10",2.1],["2021-08-05",1.2],["2021-09-01",2.2],["2021-09-28",1.1],["2021-10-25",2.2],["2021-11-20",1.3],["2021-12-15",2.4],["2022-01-12",1.6],["2022-02-08",2.6],["2022-03-06",1.6],["2022-04-01",2.5],["2022-04-28",1.6],["2022-05-24",2.6],["2022-06-20",1.5],["2022-07-12",3.4]];

// election results shown as squares
const electionResults = [["fdi",26.0],["pd",19.1],["m5s",15.4],["lega",8.8],["fi",8.1],["iv",7.8],["avs",3.6],["pe",2.8],["italexit",1.9],["ic",0.6]];
// latest estimate per labelled party (label anchor + shown number)
const latestKeys = ["fdi","pd","m5s","lega","fi","sue","avs","az","iv","italexit","nm"];
const latestValues = [27.3,21.0,16.0,8.8,8.7,4.4,3.95,3.9,3.1,1.3,1.0];

// ---------------- STYLE ----------------
const style = {
  fdi:{name:"FdI",color:"#2a74d4",lo:0.62},
  pd:{name:"PD",color:"#e4001e",lo:0.6},
  m5s:{name:"5Stars",color:"#fcc53c",lo:0.6},
  lega:{name:"Lega",color:"#4ea52d",lo:0.6},
  fi:{name:"FI",color:"#6896f5",lo:0.6},
  iv:{name:"IV",color:"#c95ed3",lo:0.6},
  az:{name:"Az",color:"#2b2d96",lo:0.6},
  avs:{name:"AVS",color:"#9a5273",lo:0.6},
  pe:{name:"+E",color:"#ff7f00",lo:0.65},
  sue:{name:"SUE",color:"#ffb300",lo:0.6},
  italexit:{name:"Italexit",color:"#3a6b9b",lo:0.6},
  nm:{name:"NM",color:"#8ccdf7",lo:0.65},
  ic:{name:"IC",color:"#1a8c92",lo:0.75},
  si:{name:"SI",color:"#c41e3a",lo:0.7},
  ev:{name:"EV",color:"#22b022",lo:0.7}
};
const seriesTable = [
  ["fdi",fdiLine,fdiPolls],["pd",pdLine,pdPolls],["m5s",m5sLine,m5sPolls],["lega",legaLine,legaPolls],
  ["fi",fiLine,fiPolls],["iv",ivLine,ivPolls],["az",azLine,azPolls],["avs",avsLine,avsPolls],
  ["pe",peLine,pePolls],["sue",sueLine,suePolls],["italexit",italexitLine,italexitPolls],
  ["nm",nmLine,nmPolls],["ic",icLine,icPolls],["si",siLine,siPolls],["ev",evLine,evPolls]
];

// ---------------- CHART ----------------
const parse = d3.timeParse("%Y-%m-%d");
const svg = d3.select("#chart");
const x = d3.scaleTime().domain([new Date(2021,5,7,19), new Date(2024,5,6,2)]).range([96.8,1687]);
const y = d3.scaleLinear().domain([0,34.65]).range([776.5,188.6]);
const conv = arr => arr.map(d => d ? [parse(d[0]), d[1]] : null);

// title
const title = svg.append("text").attr("x",40).attr("y",52)
  .attr("font-size",46).attr("font-weight",700).attr("fill","#111")
  .text("Italy — National parliament voting intention");
{
  const L = title.node().getComputedTextLength();
  const n = title.text().length;
  title.attr("letter-spacing", ((876 - L)/(n-1)).toFixed(2)+"px");
}

// range buttons
svg.append("rect").attr("x",40.7).attr("y",97.3).attr("width",382.6).attr("height",34.4)
  .attr("rx",5).attr("fill","none").attr("stroke","#333").attr("stroke-width",1);
svg.append("rect").attr("x",91).attr("y",99.3).attr("width",78).attr("height",30).attr("rx",5).attr("fill","#e0002b");
const rbX = [51.7,96.7,178,259,328];
rangeButtons.forEach((t,i)=>{
  svg.append("text").attr("x",rbX[i]).attr("y",120.7).attr("font-size",15.5).attr("font-weight",500)
    .attr("fill", i===1?"#fff":"#111").text(t);
});
svg.append("rect").attr("x",1566.7).attr("y",97.3).attr("width",220).attr("height",34.4)
  .attr("rx",5).attr("fill","none").attr("stroke","#333").attr("stroke-width",1);
svg.append("rect").attr("x",1571).attr("y",99.3).attr("width",81.7).attr("height",30).attr("rx",5).attr("fill","#e0002b");
[1576.7,1663.3].forEach((px,i)=>{
  svg.append("text").attr("x",px).attr("y",120.7).attr("font-size",15.5).attr("font-weight",500)
    .attr("fill", i===0?"#fff":"#111").text(modeButtons[i]);
});

// event lines
const evG = svg.append("g");
events.forEach((e,i)=>{
  const ex = x(parse(e[0]));
  const top = i===0 ? 210 : 190;
  evG.append("line").attr("x1",ex).attr("x2",ex).attr("y1",top).attr("y2",776.5).attr("stroke","#b8b8b8").attr("stroke-width",1.5);
  evG.append("line").attr("x1",ex-9).attr("x2",ex+9).attr("y1",top).attr("y2",top).attr("stroke","#b8b8b8").attr("stroke-width",1.5);
  evG.append("text").attr("x",ex+3).attr("y",top-4.5).attr("text-anchor","middle").attr("font-size",15.5).attr("fill","#444").text(e[1]);
});

// dots
const dotG = svg.append("g");
seriesTable.forEach(([k,line,polls])=>{
  dotG.selectAll(null).data(conv(polls)).join("circle")
    .attr("cx",d=>x(d[0])).attr("cy",d=>y(d[1])).attr("r",3)
    .attr("fill",style[k].color).attr("fill-opacity",0.2);
});
// lines
const lineGen = d3.line().defined(d=>d!==null).x(d=>x(d[0])).y(d=>y(d[1]));
const lineG = svg.append("g");
seriesTable.forEach(([k,line])=>{
  lineG.append("path").datum(conv(line)).attr("d",lineGen).attr("fill","none")
    .attr("stroke",style[k].color).attr("stroke-opacity",style[k].lo).attr("stroke-width",2.6)
    .attr("stroke-linejoin","round");
});
// election squares
const elX = x(parse(events[1][0]));
svg.append("g").selectAll("rect").data(electionResults).join("rect")
  .attr("x",elX-4.5).attr("y",d=>y(d[1])-4.5).attr("width",9).attr("height",9)
  .attr("fill",d=>style[d[0]].color).attr("fill-opacity",0.85);

// axes
const yAxis = svg.append("g").attr("transform","translate(96.8,0)")
  .call(d3.axisLeft(y).tickValues(yTicks).tickFormat(d=>d+" %").tickSize(8).tickSizeOuter(8).tickPadding(6));
const xAxis = svg.append("g").attr("transform","translate(0,776.5)")
  .call(d3.axisBottom(x).ticks(d3.timeMonth.every(3))
    .tickFormat(d=> d.getMonth()===0 ? d3.timeFormat("%Y")(d) : d3.timeFormat("%b")(d))
    .tickSize(7).tickSizeOuter(7));
[yAxis,xAxis].forEach(g=>{
  g.attr("font-family","DejaVu Sans, sans-serif").attr("font-size",14.5);
  g.selectAll("path,line").attr("stroke","#222").attr("stroke-width",1.8);
  g.selectAll("text").attr("font-family","DejaVu Sans, sans-serif").attr("font-size",14.5)
    .style("font-size","14.5px").attr("fill","#222");
});
xAxis.selectAll(".tick text").attr("text-anchor","end").attr("x",0).attr("y",0).attr("dy",0)
  .attr("transform","translate(15,17) rotate(-42)");

// latest date marker
const lx = x(parse(latestDate));
svg.append("line").attr("x1",lx).attr("x2",lx).attr("y1",168).attr("y2",776.5).attr("stroke","#333").attr("stroke-width",1.5);
svg.append("line").attr("x1",lx-20.5).attr("x2",lx+20.5).attr("y1",168).attr("y2",168).attr("stroke","#333").attr("stroke-width",1.5);
svg.append("text").attr("x",lx).attr("y",161).attr("text-anchor","middle").attr("font-size",15.5).attr("fill","#222").text("May 23, 2024");

// end labels with collision avoidance
const items = latestKeys.map((k,i)=>({k, v:latestValues[i], target:y(latestValues[i])}));
items.sort((a,b)=>a.target-b.target);
const gap = 25, maxY = 783.6;
let groups = items.map(d=>({m:[d]}));
const gStart = g => {
  const mean = d3.mean(g.m, d=>d.target);
  return Math.min(mean - (g.m.length-1)*gap/2, maxY - (g.m.length-1)*gap);
};
let changed = true;
while(changed){
  changed=false;
  for(let i=0;i<groups.length-1;i++){
    const a=groups[i], b=groups[i+1];
    if(gStart(a)+(a.m.length)*gap > gStart(b)){ a.m = a.m.concat(b.m); groups.splice(i+1,1); changed=true; break; }
  }
}
groups.forEach(g=>{ const s=gStart(g); g.m.forEach((d,j)=>d.pos=s+j*gap); });
const labG = svg.append("g").attr("font-size",18).attr("font-weight",600);
items.forEach(d=>{
  labG.append("text").attr("x",lx-5.5).attr("y",d.pos).attr("dy","0.33em").attr("text-anchor","end")
    .attr("fill",style[d.k].color).text(style[d.k].name);
  labG.append("text").attr("x",lx+6).attr("y",d.pos).attr("dy","0.33em")
    .attr("fill",style[d.k].color).text(Math.round(d.v)+" %");
});
</script>
</body></html>
